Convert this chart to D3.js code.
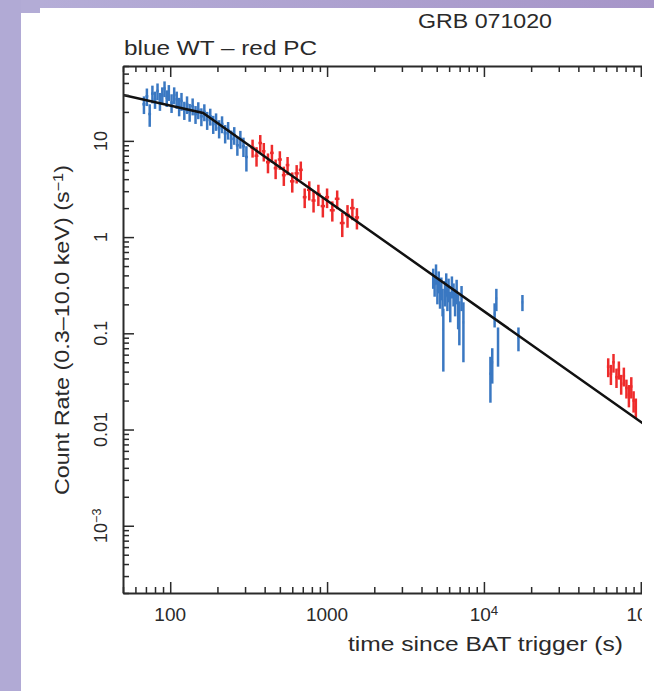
<!DOCTYPE html>
<html>
<head>
<meta charset="utf-8">
<script src="https://cdn.jsdelivr.net/npm/d3@7"></script>
<style>
  html, body { margin: 0; padding: 0; background: #fff; }
  svg { display: block; font-family: 'Liberation Sans', Arial, sans-serif; }
</style>
</head>
<body>
<svg id="chart" width="654" height="691"></svg>
<script>
// WT mode, early part (blue)
const wtEarlyTimes = [68, 71, 74, 77, 80, 83, 86, 89, 92, 95, 98, 102, 106, 110, 114, 118, 123, 128, 133, 139,
  145, 151, 158, 165, 172, 180, 188, 196, 205, 214, 224, 234, 245, 256, 268, 280, 293, 306];
const wtEarlyTimeErrs = [1.5, 1.5, 1.5, 1.5, 1.5, 1.5, 1.5, 1.5, 1.5, 1.5, 1.5, 2, 2, 2, 2, 2, 2.5, 2.5, 2.5, 3,
  3, 3, 3.5, 3.5, 3.5, 4, 4, 4, 4.5, 4.5, 5, 5, 5.5, 5.5, 6, 6, 6.5, 6.5];
const wtEarlyRates = [24, 29, 19, 31, 27, 33, 26, 30, 35, 28, 32, 25, 30, 27, 23, 26, 21, 24, 20, 23,
  19, 21, 18, 20, 16.5, 18, 15, 16, 13.5, 15, 12, 13, 10.5, 11.5, 9, 10.5, 8.8, 6.8];
const wtEarlyRateErrs = [5, 6, 5, 6.5, 5.5, 6.5, 5.5, 6, 6.5, 5.5, 6, 5.5, 6, 5.5, 5, 5.5, 4.5, 5, 4.2, 4.6,
  4, 4.2, 3.8, 4, 3.5, 3.6, 3.2, 3.3, 2.9, 3, 2.6, 2.7, 2.3, 2.4, 2, 2.2, 2, 2];

// PC mode, early part (red)
const pcEarlyTimes = [335, 355, 375, 395, 420, 445, 470, 500, 530, 560, 600, 640, 680, 720, 770, 820, 880, 940,
  1000, 1080, 1160, 1250, 1350, 1450, 1550];
const pcEarlyTimeErrs = [10, 10, 10, 10, 12, 12, 13, 15, 15, 15, 20, 20, 20, 20, 25, 25, 30, 30,
  30, 40, 40, 45, 50, 50, 50];
const pcEarlyRates = [8.5, 7.0, 9.5, 7.8, 6.0, 7.5, 5.2, 6.4, 4.4, 5.6, 3.8, 4.6, 5.0, 2.6, 3.1, 2.4, 2.8, 2.1,
  2.6, 1.9, 2.5, 1.4, 1.7, 2.0, 1.6];
const pcEarlyRateErrs = [1.8, 1.6, 2.0, 1.7, 1.4, 1.6, 1.2, 1.4, 1.0, 1.2, 0.9, 1.0, 1.1, 0.6, 0.7, 0.6, 0.7, 0.5,
  0.6, 0.45, 0.55, 0.4, 0.45, 0.5, 0.4];

// WT mode, late part (blue)
const wtLateTimes = [4750, 4850, 4950, 5050, 5150, 5250, 5350, 5450, 5510, 5650, 5750, 5850, 5950, 6100, 6250,
  6400, 6550, 6700, 6850, 6970, 7200, 7400, 11000, 11300, 11700, 12000, 12300, 16600, 17600];
const wtLateTimeErrs = [40, 40, 40, 40, 40, 40, 40, 40, 40, 50, 50, 50, 50, 60, 60,
  60, 60, 60, 60, 60, 80, 80, 150, 150, 150, 150, 150, 200, 200];
const wtLateRates = [0.38, 0.32, 0.42, 0.28, 0.35, 0.25, 0.30, 0.22, 0.11, 0.27, 0.33, 0.24, 0.29, 0.20, 0.31,
  0.26, 0.22, 0.28, 0.18, 0.145, 0.24, 0.13, 0.038, 0.05, 0.16, 0.23, 0.08, 0.09, 0.21];
const wtLateRateErrs = [0.09, 0.08, 0.1, 0.08, 0.09, 0.07, 0.08, 0.07, 0.07, 0.08, 0.09, 0.07, 0.08, 0.07, 0.08,
  0.07, 0.07, 0.08, 0.07, 0.07, 0.07, 0.08, 0.019, 0.02, 0.045, 0.06, 0.035, 0.025, 0.04];

// PC mode, late part (red)
const pcLateTimes = [62000, 64500, 67000, 70000, 72500, 75000, 78000, 81000, 84000, 87000, 90000, 93000];
const pcLateTimeErrs = [1200, 1200, 1200, 1300, 1300, 1300, 1400, 1400, 1400, 1500, 1500, 1500];
const pcLateRates = [0.045, 0.038, 0.05, 0.035, 0.042, 0.03, 0.036, 0.027, 0.023, 0.028, 0.02, 0.017];
const pcLateRateErrs = [0.01, 0.009, 0.011, 0.008, 0.009, 0.007, 0.008, 0.006, 0.006, 0.007, 0.005, 0.004];

// broken power-law fit
const modelTimes = [50, 162, 200000];
const modelRates = [30, 19.5, 0.0054];

// tick labels ('^' marks a superscript)
const xTickValues = [100, 1000, 10000, 100000];
const xTickLabels = ['100', '1000', '10^4', '10^5'];
const yTickValues = [10, 1, 0.1, 0.01, 0.001];
const yTickLabels = ['10', '1', '0.1', '0.01', '10^\u22123'];

const BLUE = '#3a78c2';
const RED = '#ee2b2b';
const INK = '#2a2a2a';

const plotLeft = 123;
const plotTop = 66;
const plotBottom = 593;
const plotRight = 688;
const clipRight = 642;

const svg = d3.select('#chart');

const xScale = d3.scaleLog().domain([50, 200000]).range([plotLeft, plotRight]);
const yScale = d3.scaleLog().domain([0.0002, 60]).range([plotBottom, plotTop]);

/**
 * Paints the lavender page border on the left and on top.
 */
function drawBackground() {
  const defs = svg.append('defs');
  const grad = defs.append('linearGradient').attr('id', 'topgrad');
  grad.append('stop').attr('offset', '0%').attr('stop-color', '#b6afd8');
  grad.append('stop').attr('offset', '100%').attr('stop-color', '#a695c8');

  svg.append('rect').attr('x', 0).attr('y', 0).attr('width', 654).attr('height', 8).attr('fill', 'url(#topgrad)');
  svg.append('rect').attr('x', 0).attr('y', 0).attr('width', 40).attr('height', 13).attr('fill', '#b3acd6');
  svg.append('rect').attr('x', 0).attr('y', 0).attr('width', 21).attr('height', 691).attr('fill', '#b1aad5');

  defs.append('clipPath').attr('id', 'pageclip')
    .append('rect').attr('x', 0).attr('y', 0).attr('width', clipRight).attr('height', 691);
  defs.append('clipPath').attr('id', 'plotclip')
    .append('rect').attr('x', plotLeft).attr('y', plotTop)
    .attr('width', plotRight - plotLeft).attr('height', plotBottom - plotTop);
}

/**
 * Appends a text with an optional superscript written after a '^'.
 *
 * @param {*} sel The text selection
 * @param {string} label The label
 */
function writeLabel(sel, label) {
  const parts = label.split('^');
  sel.append('tspan').text(parts[0]);
  if (parts.length > 1) {
    sel.append('tspan').attr('dy', '-0.45em').attr('font-size', '0.7em').text(parts[1]);
  }
}

/**
 * Draws the four-sided frame with inward major and minor ticks.
 *
 * @param {*} g The group of the chart
 */
function drawAxes(g) {
  const xMinor = xScale.ticks().filter(v => !xTickValues.includes(v));
  const yMinor = yScale.ticks().filter(v => !yTickValues.some(t => Math.abs(t - v) / v < 1e-6));

  const axes = [
    [d3.axisBottom, xScale, xTickValues, xMinor, plotBottom, 'x'],
    [d3.axisTop, xScale, xTickValues, xMinor, plotTop, 'x'],
    [d3.axisLeft, yScale, yTickValues, yMinor, plotLeft, 'y'],
    [d3.axisRight, yScale, yTickValues, yMinor, plotRight, 'y']
  ];

  axes.forEach(([axisFn, scale, major, minor, pos, dir]) => {
    const shift = dir === 'x' ? `translate(0,${pos})` : `translate(${pos},0)`;
    g.append('g').attr('class', 'minor').attr('transform', shift)
      .call(axisFn(scale).tickValues(minor).tickSizeInner(-6).tickSizeOuter(0).tickFormat(''));
    g.append('g').attr('class', 'major').attr('transform', shift)
      .call(axisFn(scale).tickValues(major).tickSizeInner(-11).tickSizeOuter(0).tickFormat(''));
  });

  g.selectAll('.minor .domain').remove();
  g.selectAll('.major .domain').attr('stroke', INK).attr('stroke-width', 2);
  g.selectAll('.tick line').attr('stroke', INK).attr('stroke-width', 1.5);
}

/**
 * Writes the tick labels below the x axis and left of the y axis.
 *
 * @param {*} g The group of the chart
 */
function drawTickLabels(g) {
  g.selectAll('.xlabel')
    .data(xTickValues)
    .enter()
    .append('text')
    .attr('class', 'xlabel')
    .attr('x', d => xScale(d))
    .attr('y', 621)
    .attr('text-anchor', 'middle')
    .attr('font-size', 19)
    .attr('fill', INK)
    .each(function (d, i) { writeLabel(d3.select(this), xTickLabels[i]); });

  g.selectAll('.ylabel')
    .data(yTickValues)
    .enter()
    .append('text')
    .attr('class', 'ylabel')
    .attr('transform', d => `translate(107,${yScale(d)}) rotate(-90)`)
    .attr('text-anchor', 'middle')
    .attr('font-size', 18)
    .attr('fill', INK)
    .each(function (d, i) { writeLabel(d3.select(this), yTickLabels[i]); });
}

/**
 * Draws the error bars of one series.
 *
 * @param {*} g The group to draw in
 * @param {number[]} times Bin centres
 * @param {number[]} timeErrs Half widths of the bins
 * @param {number[]} rates Count rates
 * @param {number[]} rateErrs Errors on the rates
 * @param {string} color Stroke colour
 */
function drawSeries(g, times, timeErrs, rates, rateErrs, color) {
  const points = times.map((t, i) => ({ t: t, dt: timeErrs[i], r: rates[i], dr: rateErrs[i] }));
  const grp = g.append('g').attr('stroke', color).attr('stroke-width', 2.5);

  grp.selectAll('.ybar')
    .data(points)
    .enter()
    .append('line')
    .attr('class', 'ybar')
    .attr('x1', d => xScale(d.t))
    .attr('x2', d => xScale(d.t))
    .attr('y1', d => yScale(Math.max(d.r - d.dr, 0.0003)))
    .attr('y2', d => yScale(d.r + d.dr));

  grp.selectAll('.xbar')
    .data(points)
    .enter()
    .append('line')
    .attr('class', 'xbar')
    .attr('x1', d => xScale(d.t - d.dt))
    .attr('x2', d => xScale(d.t + d.dt))
    .attr('y1', d => yScale(d.r))
    .attr('y2', d => yScale(d.r));
}

/**
 * Draws the fitted model line.
 *
 * @param {*} g The group to draw in
 */
function drawModel(g) {
  const line = d3.line().x(d => xScale(d[0])).y(d => yScale(d[1]));
  g.append('path')
    .datum(modelTimes.map((t, i) => [t, modelRates[i]]))
    .attr('d', line)
    .attr('fill', 'none')
    .attr('stroke', '#111')
    .attr('stroke-width', 2.5);
}

/**
 * Writes the titles of the chart and of the axes.
 *
 * @param {*} g The group of the chart
 */
function drawTitles(g) {
  g.append('text').attr('x', 485).attr('y', 28).attr('text-anchor', 'middle')
    .attr('font-size', 20).attr('fill', INK)
    .attr('textLength', 134).attr('lengthAdjust', 'spacingAndGlyphs')
    .text('GRB 071020');
  g.append('text').attr('x', 124).attr('y', 55)
    .attr('font-size', 20).attr('fill', INK)
    .attr('textLength', 193).attr('lengthAdjust', 'spacingAndGlyphs')
    .text('blue WT \u2013 red PC');
  g.append('text').attr('x', 623).attr('y', 651).attr('text-anchor', 'end')
    .attr('font-size', 20).attr('fill', INK)
    .attr('textLength', 275).attr('lengthAdjust', 'spacingAndGlyphs')
    .text('time since BAT trigger (s)');

  const yTitle = g.append('text')
    .attr('transform', 'translate(69,330) rotate(-90)')
    .attr('text-anchor', 'middle')
    .attr('font-size', 20)
    .attr('fill', INK)
    .attr('textLength', 330)
    .attr('lengthAdjust', 'spacingAndGlyphs');
  yTitle.append('tspan').text('Count Rate (0.3\u201310.0 keV) (s');
  yTitle.append('tspan').attr('dy', '-0.45em').attr('font-size', '0.7em').text('\u22121');
  yTitle.append('tspan').attr('dy', '0.32em').text(')');
}

drawBackground();

const chart = svg.append('g').attr('clip-path', 'url(#pageclip)');
const plot = chart.append('g').attr('clip-path', 'url(#plotclip)');

drawSeries(plot, wtEarlyTimes, wtEarlyTimeErrs, wtEarlyRates, wtEarlyRateErrs, BLUE);
drawSeries(plot, pcEarlyTimes, pcEarlyTimeErrs, pcEarlyRates, pcEarlyRateErrs, RED);
drawSeries(plot, wtLateTimes, wtLateTimeErrs, wtLateRates, wtLateRateErrs, BLUE);
drawSeries(plot, pcLateTimes, pcLateTimeErrs, pcLateRates, pcLateRateErrs, RED);
drawModel(plot);
drawAxes(chart);
drawTickLabels(chart);
drawTitles(chart);
</script>
</body>
</html>
